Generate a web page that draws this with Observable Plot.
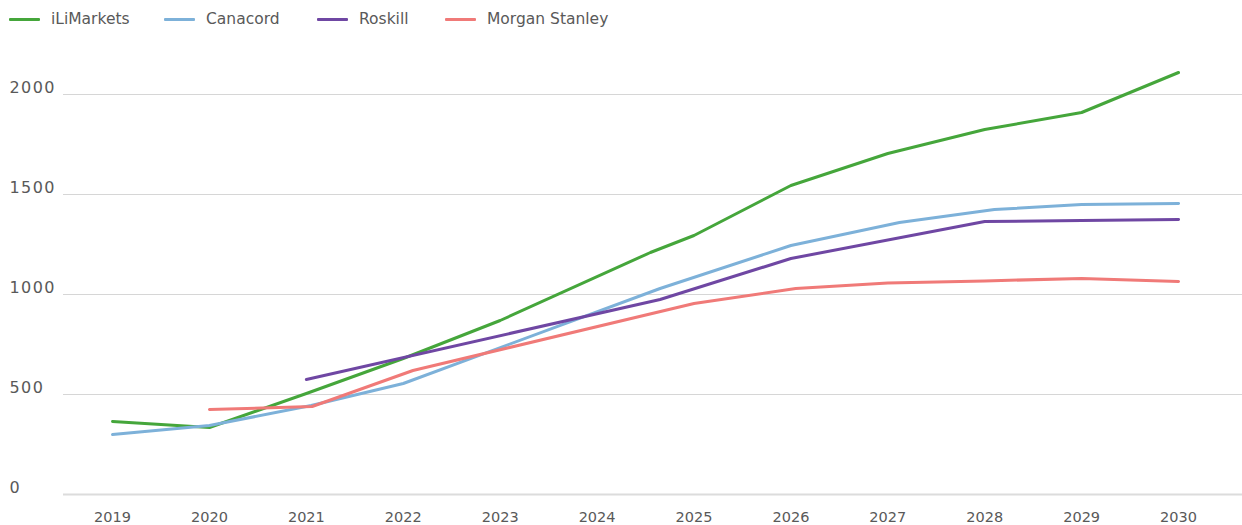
<!DOCTYPE html>
<html>
<head>
<meta charset="utf-8">
<script src="https://cdn.jsdelivr.net/npm/d3@7"></script>
<script src="https://cdn.jsdelivr.net/npm/@observablehq/plot@0.6"></script>
<style>
  html, body { margin: 0; padding: 0; background: #fff; }
  body { width: 1242px; height: 525px; overflow: hidden; font-family: "DejaVu Sans", sans-serif; color: #595959; }
  #legend { position: relative; height: 40px; }
  .item { position: absolute; top: 9px; display: flex; align-items: center; font-size: 15.5px; line-height: 20px; }
  .swatch { width: 31px; height: 3px; margin-right: 11px; border-radius: 1px; }
  [aria-label="y-axis tick label"] text { letter-spacing: 1.4px; }
  svg { display: block; }
</style>
</head>
<body>
<div id="legend"></div>
<div id="chart"></div>
<script>
// Lithium demand forecasts by source (kt LCE)
const seriesNames = ["iLiMarkets", "Canacord", "Roskill", "Morgan Stanley"];
const seriesColors = ["#45a63b", "#7db1d9", "#6f47a3", "#f07a78"];

const iliYears   = [2019, 2020, 2021, 2022, 2023, 2024.55, 2025, 2026, 2027, 2028, 2029, 2030];
const iliValues  = [365, 335, 505, 680, 870, 1210, 1295, 1545, 1705, 1825, 1910, 2110];

const canaYears  = [2019, 2020, 2021.05, 2022, 2024.65, 2026, 2027.12, 2028.1, 2029, 2030];
const canaValues = [300, 345, 445, 555, 1030, 1245, 1360, 1425, 1450, 1455];

const roskYears  = [2021, 2024.65, 2026, 2028, 2029, 2030];
const roskValues = [575, 975, 1180, 1365, 1370, 1375];

const msYears    = [2020, 2021.06, 2022.1, 2025, 2026.05, 2027, 2028, 2029, 2030];
const msValues   = [425, 440, 620, 955, 1030, 1058, 1068, 1080, 1065];

const xTicks = [2019, 2020, 2021, 2022, 2023, 2024, 2025, 2026, 2027, 2028, 2029, 2030];
const yTicks = [0, 500, 1000, 1500, 2000];

const table = [
  [seriesNames[0], iliYears, iliValues],
  [seriesNames[1], canaYears, canaValues],
  [seriesNames[2], roskYears, roskValues],
  [seriesNames[3], msYears, msValues]
].flatMap(([series, years, values]) => years.map((year, i) => ({series, year, value: values[i]})));

// Legend
const legendX = [9, 164, 317, 445];
const legend = document.getElementById("legend");
seriesNames.forEach((name, i) => {
  const item = document.createElement("div");
  item.className = "item";
  item.style.left = legendX[i] + "px";
  item.innerHTML = `<span class="swatch" style="background:${seriesColors[i]}"></span><span>${name}</span>`;
  legend.appendChild(item);
});

const chart = Plot.plot({
  width: 1242,
  height: 485,
  marginLeft: 63,
  marginRight: 0,
  marginTop: 54,
  marginBottom: 31,
  style: {fontFamily: "DejaVu Sans, sans-serif", color: "#595959", background: "#fff"},
  x: {domain: [2018.494, 2030.66]},
  y: {domain: [0, 2000]},
  color: {domain: seriesNames, range: seriesColors},
  marks: [
    Plot.ruleY(yTicks.filter(d => d > 0), {stroke: "#d6d6d6", strokeWidth: 1}),
    Plot.ruleY([0], {stroke: "#dcdcdc", strokeWidth: 2}),
    Plot.axisY(yTicks, {label: null, tickSize: 0, tickPadding: 0, textAnchor: "start", dx: -54, dy: -7, fontSize: 16, fill: "#595959", tickFormat: d => String(d)}),
    Plot.axisX(xTicks, {label: null, tickSize: 0, tickPadding: 17, tickFormat: d => String(d), fontSize: 14.5, fill: "#595959"}),
    Plot.line(table, {x: "year", y: "value", z: "series", stroke: "series", strokeWidth: 3})
  ]
});
document.getElementById("chart").appendChild(chart);
</script>
</body>
</html>
